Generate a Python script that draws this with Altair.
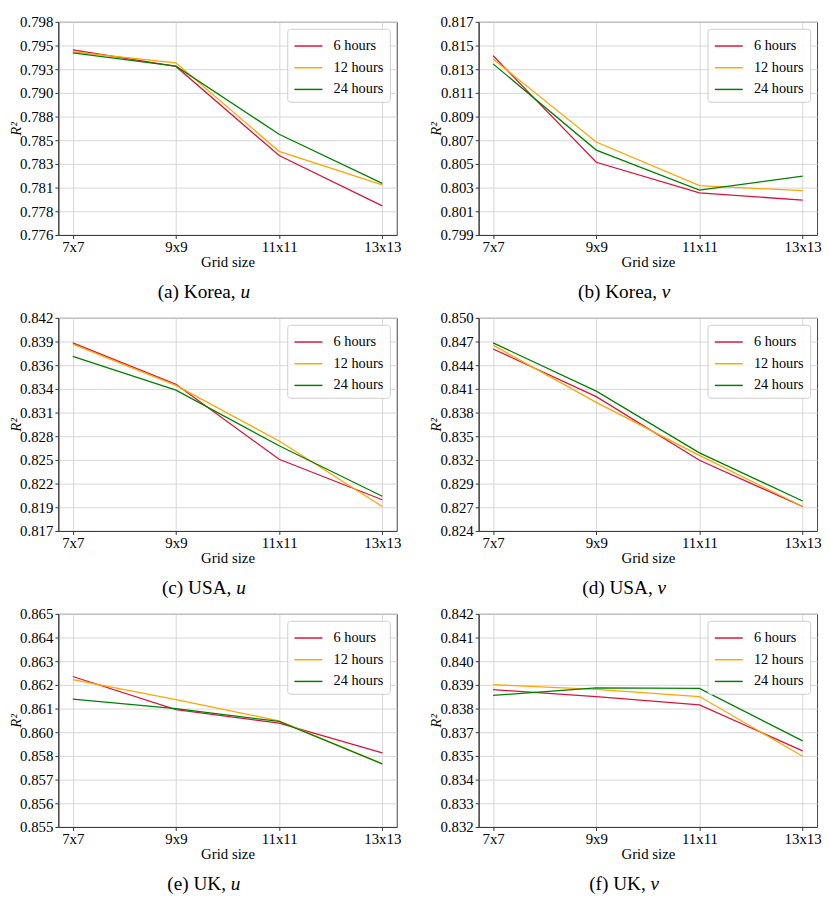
import altair as alt
import pandas as pd

grids = ["7x7", "9x9", "11x11", "13x13"]
series = ["6 hours", "12 hours", "24 hours"]
colors = ["crimson", "orange", "green"]

# (a) Korea, u
korea_u_6 = [0.7951, 0.7934, 0.7842, 0.7790]
korea_u_12 = [0.7949, 0.79377, 0.78463, 0.78117]
korea_u_24 = [0.7948, 0.79343, 0.7864, 0.78133]
korea_u_ticks = ["0.776", "0.778", "0.781", "0.783", "0.785", "0.788", "0.790", "0.793", "0.795", "0.798"]

# (b) Korea, v
korea_v_6 = [0.81414, 0.80514, 0.80255, 0.80195]
korea_v_12 = [0.81386, 0.80685, 0.80317, 0.80274]
korea_v_24 = [0.81345, 0.80617, 0.80279, 0.80396]
korea_v_ticks = ["0.799", "0.801", "0.803", "0.805", "0.807", "0.809", "0.811", "0.813", "0.815", "0.817"]

# (c) USA, u
usa_u_6 = [0.83906, 0.8342, 0.82541, 0.82066]
usa_u_12 = [0.83891, 0.83408, 0.82756, 0.81987]
usa_u_24 = [0.83748, 0.83352, 0.82699, 0.82107]
usa_u_ticks = ["0.817", "0.819", "0.822", "0.825", "0.828", "0.831", "0.834", "0.836", "0.839", "0.842"]

# (d) USA, v
usa_v_6 = [0.8462, 0.84039, 0.83263, 0.82698]
usa_v_12 = [0.84667, 0.83969, 0.83322, 0.82698]
usa_v_24 = [0.84694, 0.84106, 0.83353, 0.82765]
usa_v_ticks = ["0.824", "0.827", "0.829", "0.832", "0.835", "0.838", "0.841", "0.844", "0.847", "0.850"]

# (e) UK, u
uk_u_6 = [0.86206, 0.86051, 0.85987, 0.85848]
uk_u_12 = [0.86191, 0.86097, 0.85998, 0.85796]
uk_u_24 = [0.86100, 0.86055, 0.85995, 0.85796]
uk_u_ticks = ["0.855", "0.856", "0.857", "0.858", "0.860", "0.861", "0.862", "0.863", "0.864", "0.865"]

# (f) UK, v
uk_v_6 = [0.83844, 0.83812, 0.83773, 0.83557]
uk_v_12 = [0.83868, 0.83846, 0.83812, 0.83532]
uk_v_24 = [0.83817, 0.83853, 0.83850, 0.83604]
uk_v_ticks = ["0.832", "0.833", "0.834", "0.835", "0.837", "0.838", "0.839", "0.840", "0.841", "0.842"]

panels = [
    ("(a) Korea,", "u", (0.776, 0.798), korea_u_ticks, [korea_u_6, korea_u_12, korea_u_24]),
    ("(b) Korea,", "v", (0.799, 0.817), korea_v_ticks, [korea_v_6, korea_v_12, korea_v_24]),
    ("(c) USA,", "u", (0.817, 0.842), usa_u_ticks, [usa_u_6, usa_u_12, usa_u_24]),
    ("(d) USA,", "v", (0.824, 0.850), usa_v_ticks, [usa_v_6, usa_v_12, usa_v_24]),
    ("(e) UK,", "u", (0.855, 0.865), uk_u_ticks, [uk_u_6, uk_u_12, uk_u_24]),
    ("(f) UK,", "v", (0.832, 0.842), uk_v_ticks, [uk_v_6, uk_v_12, uk_v_24]),
]

FONT = "Liberation Serif"
W, H = 343, 216
CAP_SIZE = 19.5
TICK_SIZE = 15
LEG_SIZE = 14.5

# approximate Times-like advance widths (per 1000 em) to centre the caption
ROMAN = {"(": 333, ")": 333, "a": 444, "b": 500, "c": 444, "d": 500, "e": 444, "f": 333,
         " ": 250, ",": 250, "K": 722, "o": 500, "r": 333, "U": 722, "S": 556, "A": 722}
ITAL = {"u": 500, "v": 444}


def panel(prefix, var, dom, ticks, vals):
    lo, hi = dom
    step = (hi - lo) / 9
    tick_vals = [lo + i * step for i in range(10)]
    arr = "[" + ",".join("'%s'" % t for t in ticks) + "]"
    label_expr = "%s[round((datum.value - %r) / %r)]" % (arr, lo, step)

    rows = []
    for s, v in zip(series, vals):
        for g, y in zip(grids, v):
            rows.append({"grid": g, "series": s, "r2": y})
    df = pd.DataFrame(rows)

    common_axis = dict(labelFont=FONT, titleFont=FONT, labelFontSize=TICK_SIZE,
                       titleFontSize=TICK_SIZE, labelColor="black", titleColor="black",
                       titleFontWeight="normal", gridColor="#d6d6d6", gridWidth=1,
                       domainColor="#333333", tickColor="#333333", tickSize=3.5, grid=True)

    lines = alt.Chart(df).mark_line(strokeWidth=1.3).encode(
        x=alt.X("grid:N", sort=grids, title="Grid size",
                scale=alt.Scale(type="point", padding=0.14),
                axis=alt.Axis(labelAngle=0, labelPadding=1, titlePadding=0, **common_axis)),
        y=alt.Y("r2:Q", title="R²",
                scale=alt.Scale(domain=[lo, hi], nice=False, zero=False),
                axis=alt.Axis(values=tick_vals, labelExpr=label_expr,
                              labelPadding=2, titlePadding=-4, titleFontStyle="italic",
                              **common_axis)),
        color=alt.Color("series:N", sort=series,
                        scale=alt.Scale(domain=series, range=colors),
                        legend=alt.Legend(orient="top-right", title=None, offset=7,
                                          padding=6, strokeColor="#cccccc",
                                          fillColor="rgba(255,255,255,0.85)",
                                          cornerRadius=3, symbolType="M-1.35,0H1.35",
                                          symbolSize=441, symbolStrokeWidth=1.5,
                                          symbolOffset=4, labelOffset=14, rowPadding=4,
                                          labelFont=FONT, labelFontSize=LEG_SIZE,
                                          labelColor="black")),
        detail="series:N",
    )

    space = 250 / 1000 * CAP_SIZE
    wp = sum(ROMAN.get(ch, 500) for ch in prefix) / 1000 * CAP_SIZE
    wv = ITAL.get(var, 500) / 1000 * CAP_SIZE
    c = W / 2 - 24
    total = wp + space + wv
    xsplit = c - total / 2 + wp
    cap_y = H + 58

    cap1 = alt.Chart(pd.DataFrame({"t": [prefix]})).mark_text(
        align="right", baseline="middle", font=FONT, fontSize=CAP_SIZE, color="black"
    ).encode(x=alt.value(xsplit), y=alt.value(cap_y), text="t:N")
    cap2 = alt.Chart(pd.DataFrame({"t": [var]})).mark_text(
        align="left", baseline="middle", font=FONT, fontSize=CAP_SIZE, fontStyle="italic",
        color="black"
    ).encode(x=alt.value(xsplit + space), y=alt.value(cap_y), text="t:N")

    return alt.layer(lines, cap1, cap2).properties(width=W, height=H)


charts = [panel(*p) for p in panels]
rows = [alt.hconcat(charts[i], charts[i + 1], spacing=27).resolve_scale(color="independent")
        for i in (0, 2, 4)]
chart = alt.vconcat(*rows, spacing=8, padding=0).resolve_scale(
    color="independent"
).configure_view(
    stroke="#444444", strokeWidth=1,
)

chart.save("out.html", embed_options={"renderer": "svg", "actions": False})
